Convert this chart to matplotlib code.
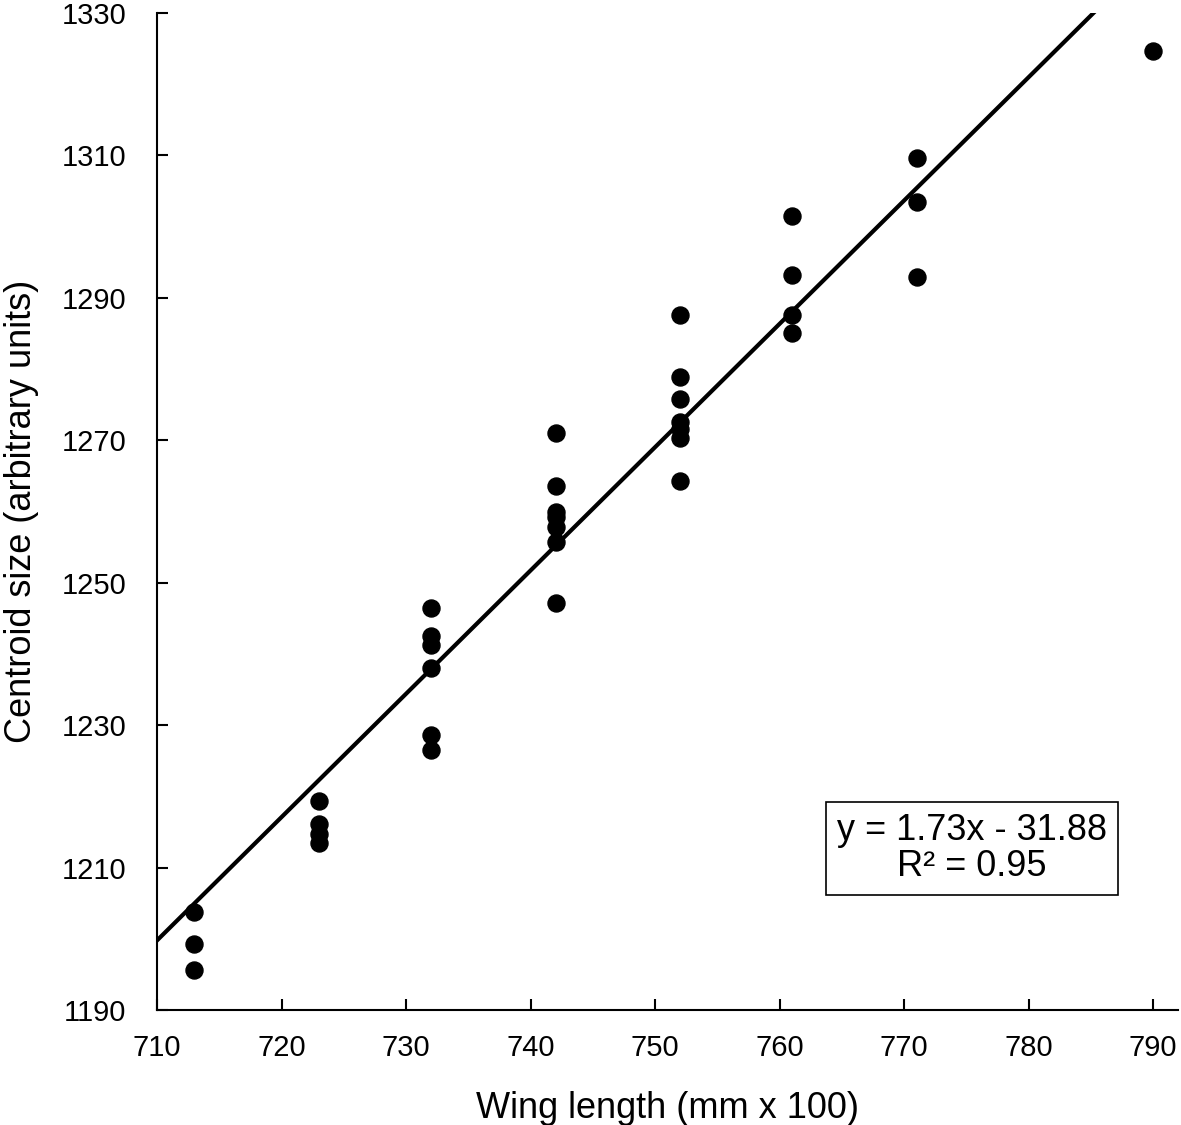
import numpy as np
import matplotlib
matplotlib.use("Agg")
import matplotlib.pyplot as plt

plt.rcParams['font.family'] = ['Liberation Sans', 'DejaVu Sans']

# wing length (mm x 100) and centroid size
wing = [713, 713, 713,
        723, 723, 723, 723,
        732, 732, 732, 732, 732, 732,
        742, 742, 742, 742, 742, 742, 742,
        752, 752, 752, 752, 752, 752, 752,
        761, 761, 761, 761,
        771, 771, 771,
        790]
centroid = [1203.8, 1199.3, 1195.6,
            1219.4, 1216.2, 1214.8, 1213.5,
            1246.4, 1242.6, 1241.3, 1238.1, 1228.7, 1226.6,
            1271.0, 1263.6, 1259.9, 1259.2, 1257.9, 1255.7, 1247.2,
            1287.6, 1278.9, 1275.8, 1272.6, 1271.6, 1270.4, 1264.3,
            1301.5, 1293.2, 1287.6, 1285.1,
            1309.7, 1303.4, 1293.0,
            1324.6]
# trend line as drawn in the chart
trend_slope = 1.731
trend_icpt = -29.2
eq_text = "y = 1.73x - 31.88\nR² = 0.95"

fig = plt.figure(figsize=(11.81, 11.25), dpi=100)
ax = fig.add_axes([0.133, 0.102, 0.8645, 0.8865])

ax.scatter(wing, centroid, s=150, color='black', zorder=3)

xl = np.array([710, 792])
ax.plot(xl, trend_slope * xl + trend_icpt, color='black', lw=3, zorder=2)

ax.set_xlim(710, 792)
ax.set_ylim(1190, 1330)
ax.set_xticks(range(710, 791, 10))
ax.set_yticks(range(1190, 1331, 20))
ax.spines['top'].set_visible(False)
ax.spines['right'].set_visible(False)
ax.spines['left'].set_linewidth(1.5)
ax.spines['bottom'].set_linewidth(1.5)
ax.tick_params(direction='in', length=8, width=1.5, labelsize=21)
ax.tick_params(axis='y', pad=22)
ax.tick_params(axis='x', pad=17)

ax.set_xlabel("Wing length (mm x 100)", fontsize=26, labelpad=21)
ax.set_ylabel("Centroid size (arbitrary units)", fontsize=26)
ax.yaxis.set_label_coords(-0.116, 0.5)

ax.text(0.798, 0.1625, eq_text, transform=ax.transAxes, fontsize=26,
        ha='center', va='center', linespacing=1.05,
        bbox=dict(boxstyle='square,pad=0.3', facecolor='white', edgecolor='black', lw=1.2))

fig.savefig('out.png', dpi=100)
